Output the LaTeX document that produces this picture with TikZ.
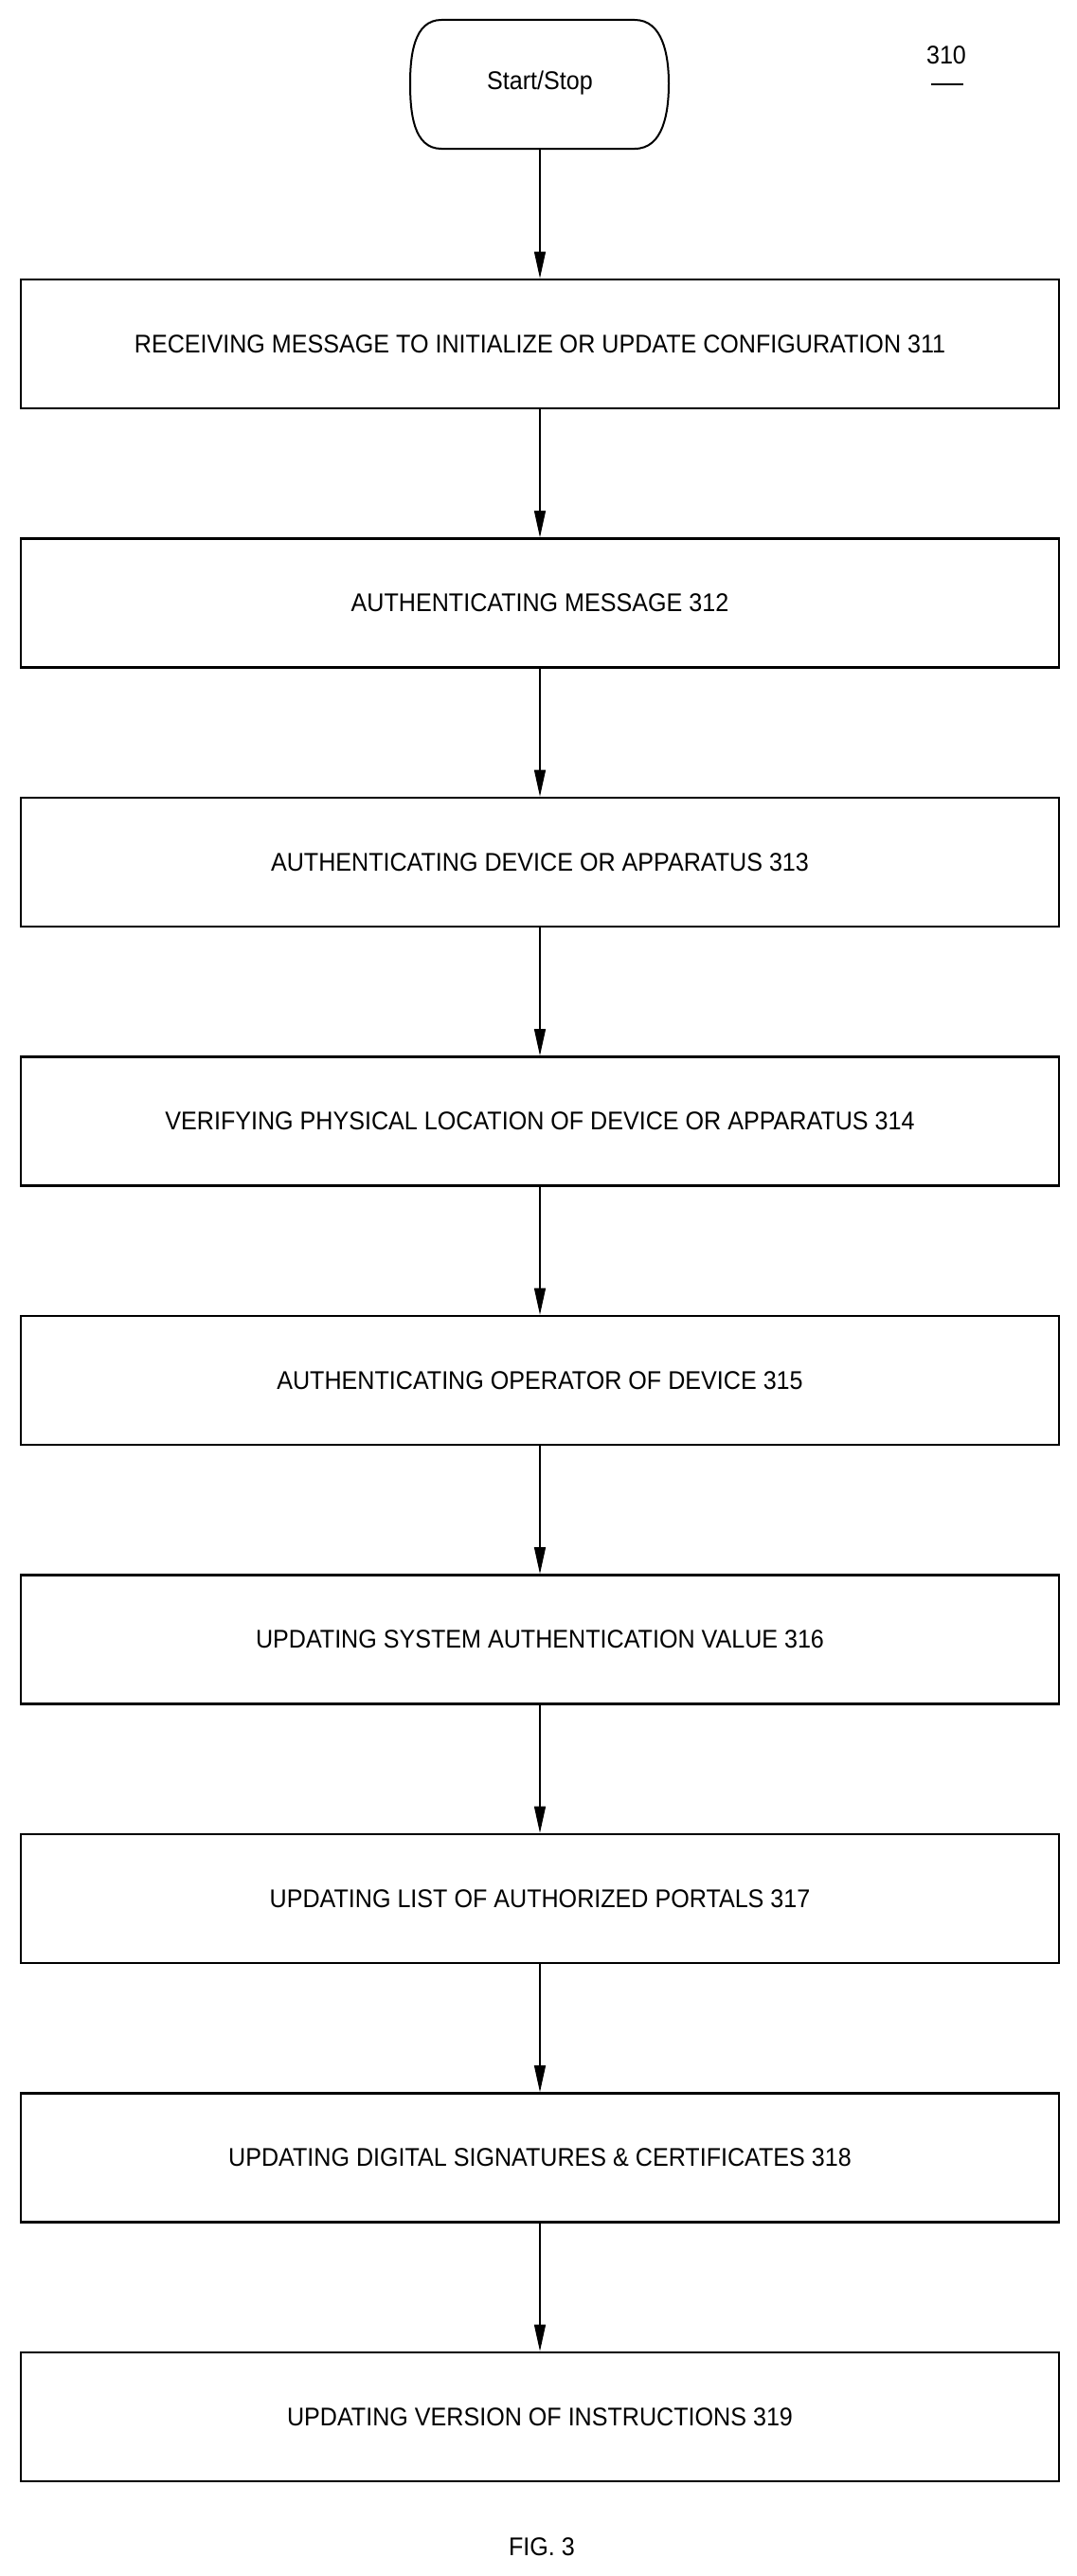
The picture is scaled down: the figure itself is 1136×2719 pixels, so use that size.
\documentclass[tikz,border=0pt]{standalone}
\usepackage{fontspec}
\setmainfont{Liberation Sans}[FakeStretch=0.93]
\usetikzlibrary{arrows.meta}
\begin{document}
\begin{tikzpicture}[x=0.5pt,y=-0.5pt,
  box/.style={draw,line width=1.3pt,minimum width=548pt,minimum height=68pt,inner sep=0pt,font=\fontsize{13.5}{16}\selectfont},
  arr/.style={line width=0.6pt,-{Triangle[length=14pt,width=6pt]}}]
\useasboundingbox (0,0) rectangle (1136,2719);
\draw[line width=1pt,rounded corners=0pt] (466,21) -- (670,21) to[out=0,in=90] (706,88) to[out=-90,in=0] (670,157) -- (466,157) to[out=180,in=-90] (433,88) to[out=90,in=180] (466,21);
\node[font=\fontsize{13.5}{16}\selectfont] (start) at (570,88) {Start/Stop};
\coordinate (st) at (570,157);
\node[font=\fontsize{13.5}{16}\selectfont] (lab) at (999,58) {310};
\draw[line width=1pt] (983,89) -- (1017,89);
\foreach \i/\t in {1/RECEIVING MESSAGE TO INITIALIZE OR UPDATE CONFIGURATION 311,
 2/AUTHENTICATING MESSAGE 312,
 3/AUTHENTICATING DEVICE OR APPARATUS 313,
 4/VERIFYING PHYSICAL LOCATION OF DEVICE OR APPARATUS 314,
 5/AUTHENTICATING OPERATOR OF DEVICE 315,
 6/UPDATING SYSTEM AUTHENTICATION VALUE 316,
 7/UPDATING LIST OF AUTHORIZED PORTALS 317,
 8/UPDATING DIGITAL SIGNATURES \& CERTIFICATES 318,
 9/UPDATING VERSION OF INSTRUCTIONS 319}
 \node[box] (b\i) at (570,{363+(\i-1)*273.5}) {\t};
\draw[arr] (st) -- (b1.north);
\foreach \i [evaluate=\i as \j using int(\i+1)] in {1,...,8}
  \draw[arr] (b\i.south) -- (b\j.north);
\node[font=\fontsize{13.5}{16}\selectfont] (fig) at (572,2688) {FIG. 3};
\end{tikzpicture}
\end{document}
